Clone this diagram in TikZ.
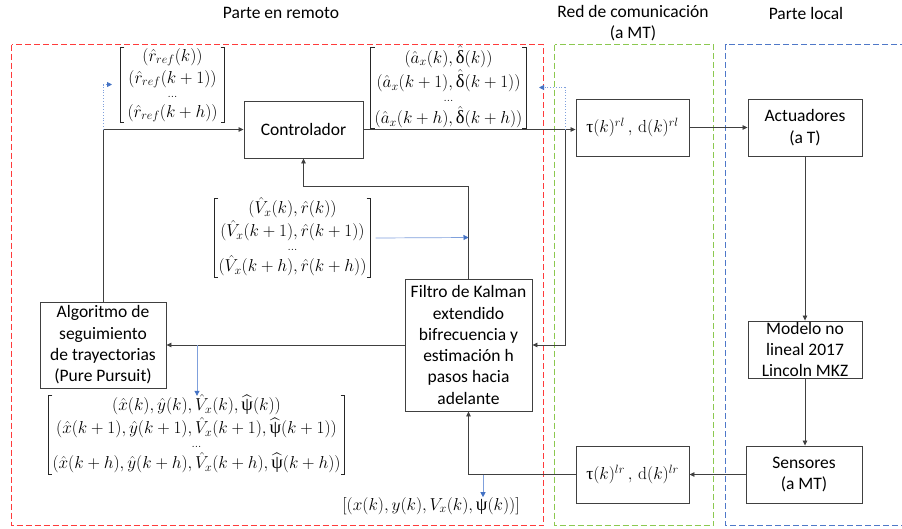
\documentclass[tikz,border=0pt]{standalone}
\usepackage{amsmath}
\usepackage{fontspec}
\newfontfamily\calib{Carlito}
\newfontfamily\grk{Liberation Serif}
\usetikzlibrary{arrows.meta}
\newcommand{\ugr}[1]{\text{\grk #1}}
\newcommand{\mydots}{{\scriptstyle\ldots}}
\newcommand{\mymat}[3]{\begin{array}{@{}c@{}}#1\\#2\\[-8pt]\mydots\\[-2pt]#3\end{array}}
\newcommand{\brackets}[1]{%
  \draw[brk] ([xshift=4pt]#1.north west) -- (#1.north west) -- (#1.south west) -- ([xshift=4pt]#1.south west);
  \draw[brk] ([xshift=-4pt]#1.north east) -- (#1.north east) -- (#1.south east) -- ([xshift=-4pt]#1.south east);}
\definecolor{edge}{HTML}{404040}
\definecolor{offblue}{HTML}{4472C4}
\definecolor{lblue}{HTML}{7FA0DC}
\definecolor{rframe}{HTML}{FF3B3B}
\definecolor{gframe}{HTML}{8CC850}
\definecolor{bframe}{HTML}{4F78C8}
\tikzset{
  box/.style={draw=edge, line width=0.9pt, fill=white, align=center, inner sep=2pt,
    font=\calib\fontsize{17.5}{21.3}\selectfont},
  title/.style={font=\calib\fontsize{17.5}{21.3}\selectfont, align=center, inner sep=0pt},
  mat/.style={inner xsep=4pt, inner ysep=-1.5pt, font=\fontsize{18.5}{22}\selectfont},
  brk/.style={draw=black!85, line width=1.2pt},
  conn/.style={draw=edge, line width=0.8pt, -{Triangle[length=5pt,width=4.5pt]}},
  bconn/.style={draw=lblue, line width=0.7pt, -{Triangle[length=5pt,width=5pt,color=offblue]}},
  bdot/.style={draw=lblue, line width=0.8pt, dotted, -{Triangle[length=5pt,width=5pt,color=offblue]}},
  frame/.style={line width=1.3pt, dash pattern=on 6pt off 3pt}
}
\begin{document}
\begin{tikzpicture}[x=1pt,y=-1pt]
\useasboundingbox (0,0) rectangle (902,528);
% region frames
\draw[frame, rframe] (11.5,44.5) rectangle (543.5,525.5);
\draw[frame, gframe] (554.5,44.5) rectangle (713.5,525.5);
\draw[frame, bframe] (906,44.5) -- (725.5,44.5) -- (725.5,525.5) -- (906,525.5);
% titles
\node[title] (t1) at (281,13) {Parte en remoto};
\node[title] (t2) at (633,23) {Red de comunicación\\(a MT)};
\node[title] (t3) at (806,13) {Parte local};
% boxes
\node[box, minimum width=119pt, minimum height=57pt] (ctrl) at (303.5,129.5) {Controlador};
\node[box, minimum width=113pt, minimum height=57pt] (trl) at (632.5,127.5) {$\ugr{τ}(k)^{rl}\,,\,\mathrm{d}(k)^{rl}$};
\node[box, minimum width=114pt, minimum height=57pt] (act) at (805,127.5) {Actuadores\\(a T)};
\node[box, minimum width=114pt, minimum height=57pt, inner sep=0pt] (mod) at (805,349.5) {Modelo no\\lineal 2017\\Lincoln MKZ};
\node[box, minimum width=116pt, minimum height=57pt] (sens) at (804,474.5) {Sensores\\(a MT)};
\node[box, minimum width=113pt, minimum height=57pt] (tlr) at (632.5,474.5) {$\ugr{τ}(k)^{lr}\,,\,\mathrm{d}(k)^{lr}$};
\node[box, minimum width=127pt, minimum height=132pt] (kf) at (468.5,345) {Filtro de Kalman\\extendido\\bifrecuencia y\\estimación h\\pasos hacia\\adelante};
\node[box, minimum width=126pt, minimum height=86pt] (algo) at (103,345) {Algoritmo de\\seguimiento\\de trayectorias\\(Pure Pursuit)};
% matrices
\node[mat, inner xsep=7pt] (mref) at (172.5,85) {$\mymat{(\hat{r}_{ref}(k))}{(\hat{r}_{ref}(k+1))}{(\hat{r}_{ref}(k+h))}$};
\node[mat] (max) at (448.5,88) {$\mymat{(\hat{a}_x(k),\hat{\ugr{δ}}(k))}{(\hat{a}_x(k+1),\hat{\ugr{δ}}(k+1))}{(\hat{a}_x(k+h),\hat{\ugr{δ}}(k+h))}$};
\node[mat] (mvx) at (292.5,238) {$\mymat{(\hat{V}_x(k),\hat{r}(k))}{(\hat{V}_x(k+1),\hat{r}(k+1))}{(\hat{V}_x(k+h),\hat{r}(k+h))}$};
\node[mat] (mbig) at (196.5,435) {$\mymat{(\hat{x}(k),\hat{y}(k),\hat{V}_x(k),\widehat{\ugr{ψ}}(k))}{(\hat{x}(k+1),\hat{y}(k+1),\hat{V}_x(k+1),\widehat{\ugr{ψ}}(k+1))}{(\hat{x}(k+h),\hat{y}(k+h),\hat{V}_x(k+h),\widehat{\ugr{ψ}}(k+h))}$};
\brackets{mref}
\brackets{max}
\brackets{mvx}
\brackets{mbig}
\node[inner sep=0pt, font=\fontsize{18.5}{22}\selectfont] (mmeas) at (431,506) {$[(x(k),y(k),V_x(k),\ugr{ψ}(k))]$};
% coordinates
\coordinate (br1) at (565,129.5);
\coordinate (br2) at (algo.north |- ctrl.west);
\coordinate (kfv) at (468.5,237.5);
\coordinate (b3) at (197,345);
\coordinate (b4) at (483,474.5);
% connectors
\draw[conn] (ctrl.east) -- (ctrl.east -| trl.west);
\draw[conn] (trl.east) -- (act.west);
\draw[conn] (act.south) -- (mod.north);
\draw[conn] (mod.south) -- (sens.north -| mod.south);
\draw[conn] (sens.west) -- (sens.west -| tlr.east);
\draw[conn] (tlr.west) -| (kf.south);
\draw[conn] (br1) |- (kf.east);
\draw[conn] (kf.north) -- ++(0,-92) -| (ctrl.south);
\draw[conn] (kf.west) -- (algo.east);
\draw[conn] (algo.north) |- (ctrl.west);
% blue auxiliary arrows
\draw[bdot] (br2) -- ++(0,-45) -- ++(9,0);
\draw[bdot] (br1) -- ++(0,-42) -- ++(-26,0);
\draw[bconn] ([xshift=5pt]mvx.east) -- (kfv);
\draw[bconn] (b3) -- (b3 |- mbig.north);
\draw[bconn] (b4) -- (b4 |- mmeas.north);
\end{tikzpicture}
\end{document}
